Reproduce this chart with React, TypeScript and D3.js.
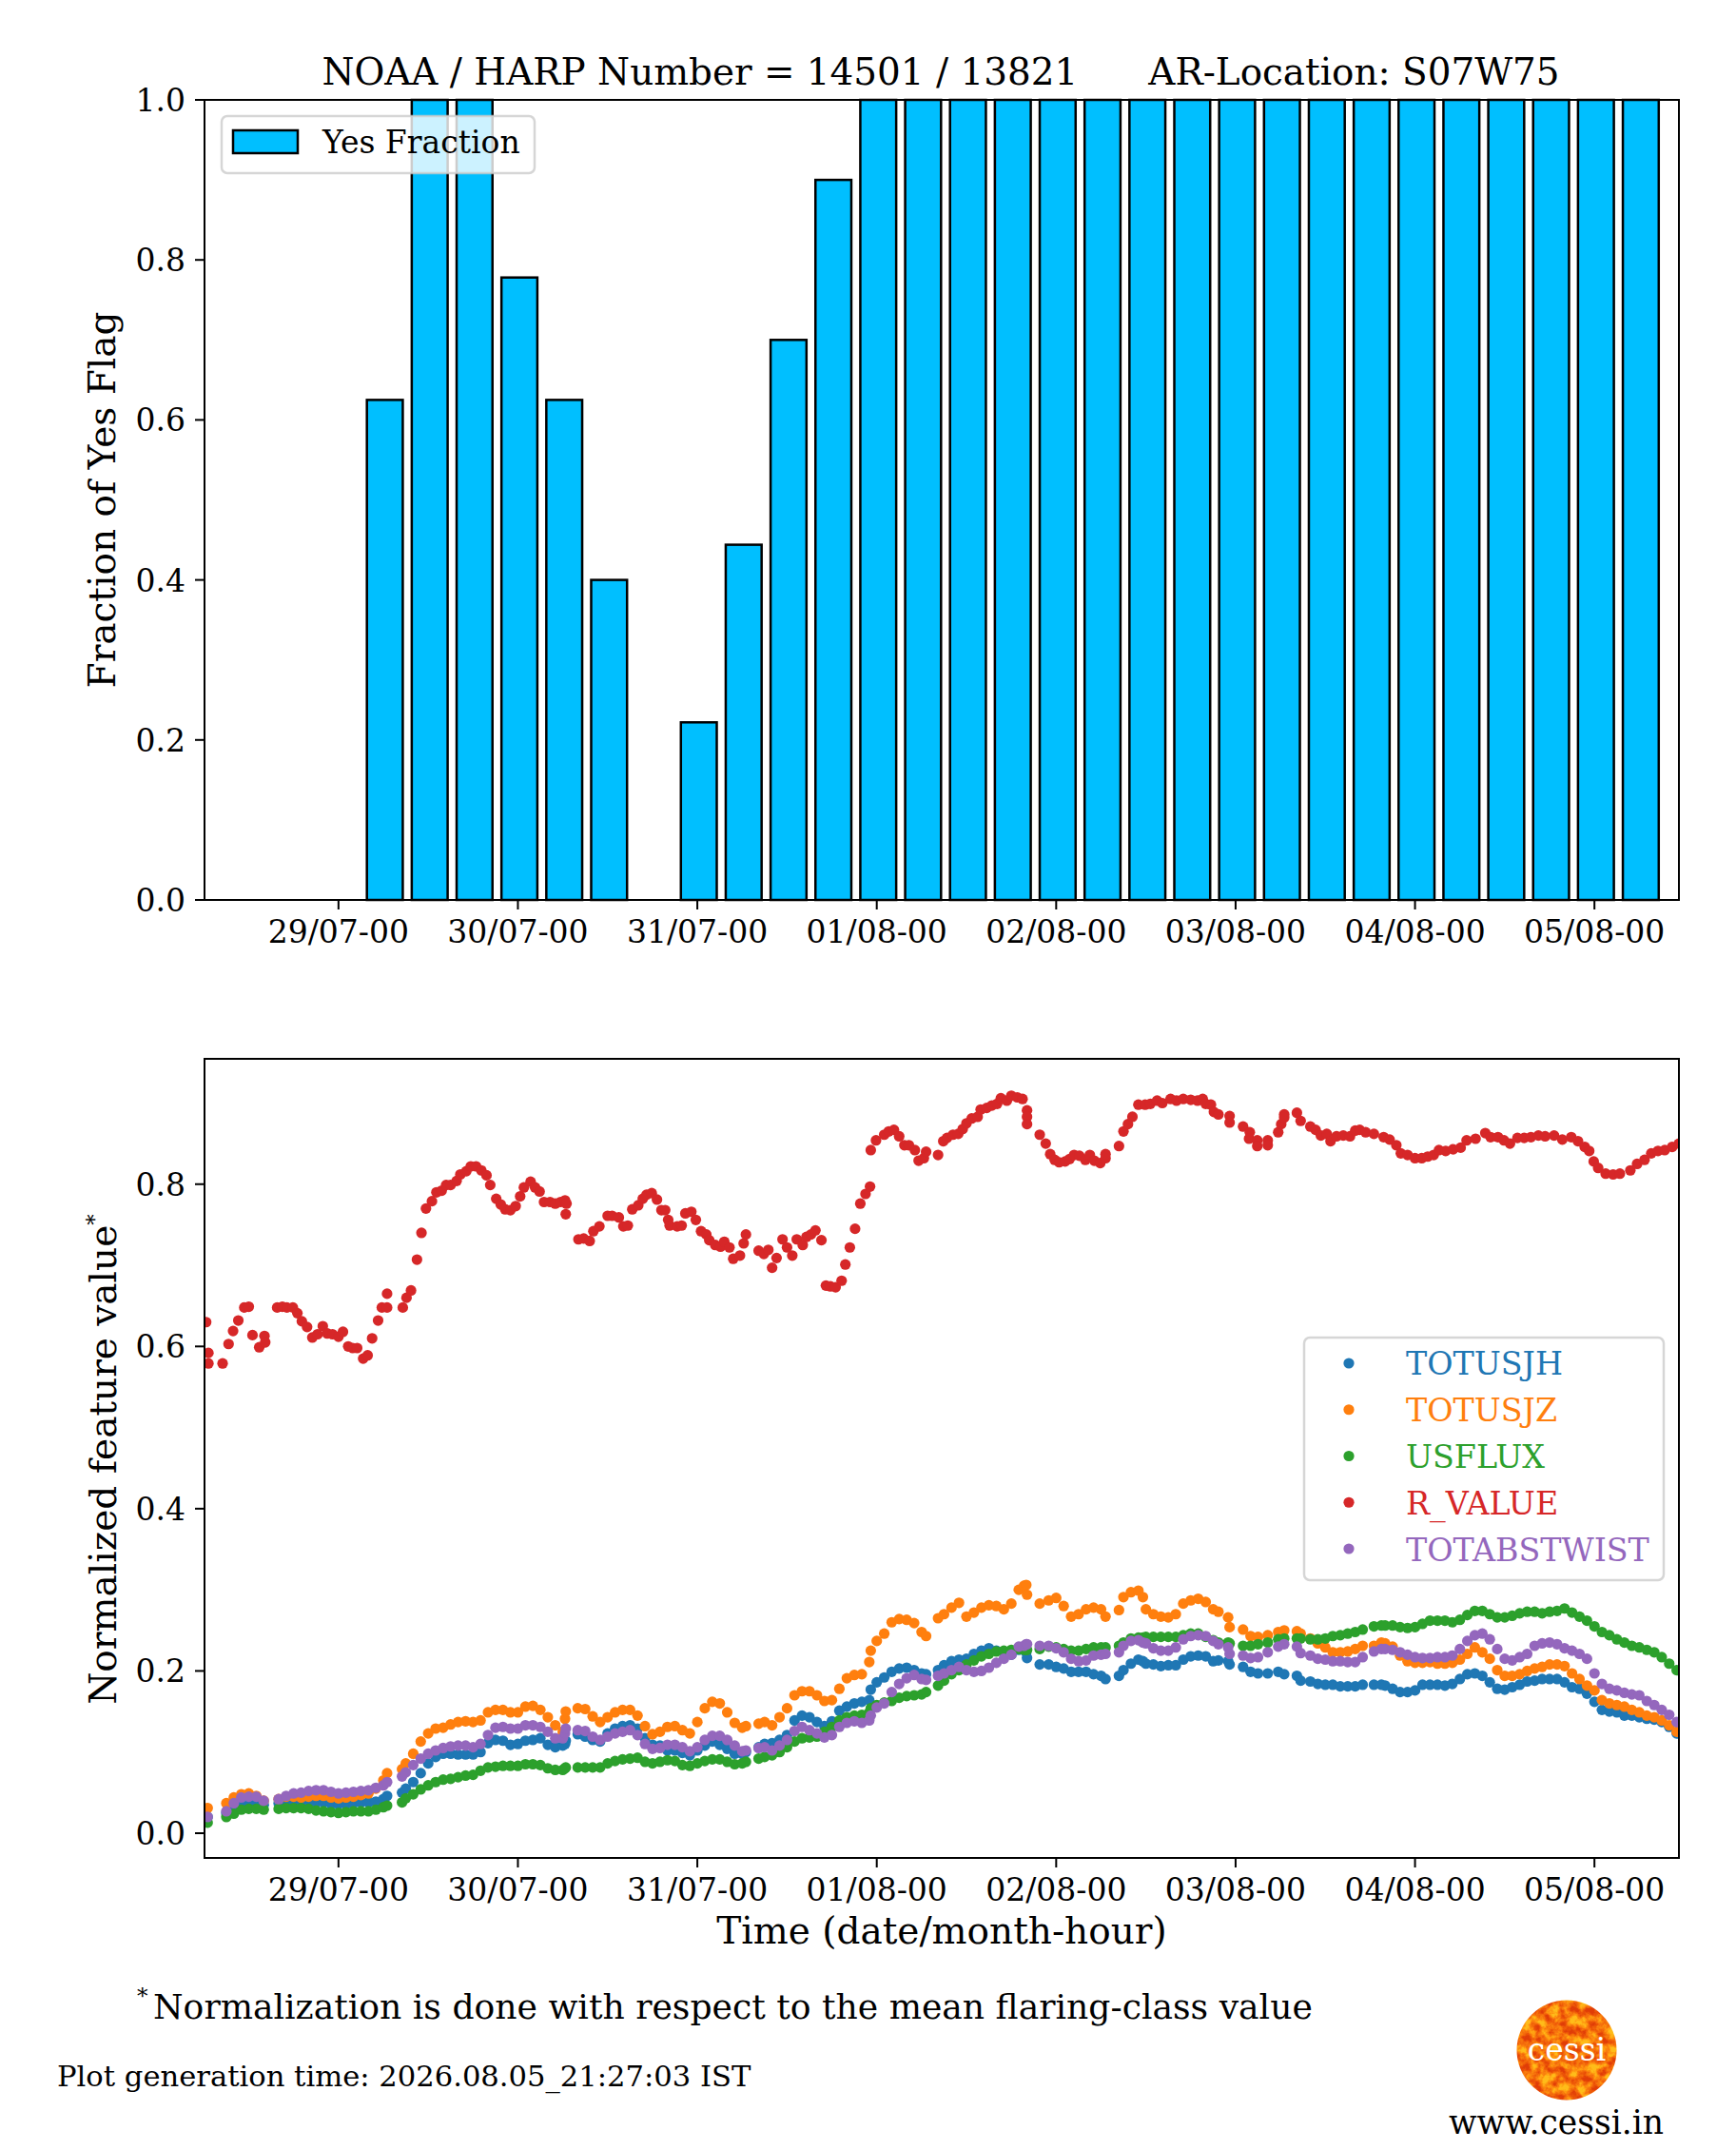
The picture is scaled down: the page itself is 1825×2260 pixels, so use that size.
import React from "react";
import * as d3 from "d3";

// hours counted from 29/07-00
const tickHours = [0, 24, 48, 72, 96, 120, 144, 168];

const barHours = [6.2, 12.2, 18.2, 24.2, 30.2, 36.2, 42.2, 48.2, 54.2, 60.2, 66.2, 72.2, 78.2, 84.2, 90.2, 96.2, 102.2, 108.2, 114.2, 120.2, 126.2, 132.2, 138.2, 144.2, 150.2, 156.2, 162.2, 168.2, 174.2];
const barFractions = [0.625, 1, 1, 0.778, 0.625, 0.4, 0, 0.222, 0.444, 0.7, 0.9, 1, 1, 1, 1, 1, 1, 1, 1, 1, 1, 1, 1, 1, 1, 1, 1, 1, 1];

// one line per unbroken run of samples
const sampleHours = [
  -17.5,
  -15, -14, -13, -12, -11, -10,
  -8, -7, -6, -5, -4, -3, -2, -1, 0, 1, 2, 3, 4, 5, 6, 6.5,
  8.5, 9, 10, 11, 12, 13, 14, 15, 16, 17, 18, 19, 20, 21, 22, 23, 24, 25, 26, 27, 28, 29, 30, 30.3, 30.4,
  32, 33, 34, 35, 36, 37, 38, 39, 40, 41, 42, 43,
  44, 45, 46, 47, 48, 49, 50, 51, 52, 53, 54, 54.5,
  56.2, 57, 58, 59, 60, 61, 62, 63, 64, 65, 66, 67, 68, 69, 70, 71, 71.2, 72, 73, 74, 75, 76, 77, 78, 78.6,
  80.2, 81, 82, 83, 84, 85, 86, 87, 88, 89, 90, 91, 91.7, 92, 92.1,
  93.8, 95, 96, 97, 98, 99, 100, 101, 102, 102.6,
  104.4, 105, 106, 107, 107.6, 108, 109, 110, 111, 112, 113, 114, 115, 116, 117, 117.7,
  119, 119.2,
  121, 122, 123, 124.3, 125.7, 126.5,
  128.2, 128.7,
  130, 131, 132, 133, 134, 135, 136, 137, 138.5,
  139.5, 140, 141, 142, 143, 144, 145, 146, 147, 148, 149, 150, 151, 152, 153, 154, 155, 156, 157, 158, 159, 160, 161, 162, 163, 164, 165, 166, 167, 168, 169, 170, 171, 172, 173, 174, 175, 176, 177, 178, 179,
];

const totusjh = [
  0.02,
  0.025, 0.033, 0.037, 0.038, 0.037, 0.035,
  0.037, 0.038, 0.038, 0.038, 0.038, 0.038, 0.038, 0.036, 0.036, 0.036, 0.037, 0.038, 0.038, 0.039, 0.042, 0.046,
  0.05, 0.055, 0.063, 0.074, 0.086, 0.094, 0.098, 0.098, 0.097, 0.097, 0.097, 0.1, 0.111, 0.115, 0.114, 0.109, 0.11, 0.114, 0.115, 0.117, 0.109, 0.106, 0.108, 0.11, 0.114,
  0.122, 0.119, 0.115, 0.113, 0.123, 0.129, 0.132, 0.133, 0.129, 0.117, 0.109, 0.108,
  0.102, 0.102, 0.099, 0.096, 0.102, 0.108, 0.113, 0.109, 0.104, 0.098, 0.098, 0.1,
  0.106, 0.11, 0.111, 0.115, 0.121, 0.139, 0.145, 0.143, 0.137, 0.132, 0.138, 0.151, 0.156, 0.16, 0.162, 0.164, 0.177, 0.186, 0.192, 0.199, 0.203, 0.204, 0.201, 0.197, 0.196,
  0.201, 0.207, 0.212, 0.214, 0.215, 0.221, 0.225, 0.228, 0.225, 0.223, 0.22, 0.226, 0.226, 0.223, 0.216,
  0.208, 0.208, 0.205, 0.203, 0.199, 0.199, 0.199, 0.196, 0.194, 0.19,
  0.194, 0.201, 0.209, 0.214, 0.212, 0.209, 0.208, 0.206, 0.207, 0.207, 0.214, 0.218, 0.219, 0.218, 0.212, 0.213,
  0.212, 0.208,
  0.205, 0.199, 0.197, 0.197, 0.199, 0.196,
  0.194, 0.188,
  0.187, 0.184, 0.183, 0.183, 0.181, 0.181, 0.181, 0.183, 0.183,
  0.183, 0.182, 0.178, 0.174, 0.174, 0.176, 0.183, 0.183, 0.183, 0.182, 0.184, 0.19, 0.196, 0.197, 0.194, 0.186, 0.178, 0.177, 0.18, 0.183, 0.187, 0.188, 0.19, 0.19, 0.19, 0.186, 0.18, 0.178, 0.172, 0.162, 0.152, 0.15, 0.149, 0.145, 0.145, 0.143, 0.141, 0.14, 0.137, 0.131, 0.123,
];

const totusjz = [
  0.031,
  0.037, 0.044, 0.048, 0.049, 0.046, 0.04,
  0.042, 0.045, 0.045, 0.044, 0.045, 0.046, 0.046, 0.044, 0.043, 0.044, 0.045, 0.047, 0.049, 0.055, 0.065, 0.074,
  0.079, 0.086, 0.098, 0.113, 0.123, 0.129, 0.13, 0.134, 0.137, 0.138, 0.137, 0.139, 0.149, 0.152, 0.152, 0.149, 0.149, 0.156, 0.157, 0.152, 0.143, 0.133, 0.125, 0.141, 0.15,
  0.154, 0.153, 0.144, 0.137, 0.143, 0.149, 0.152, 0.152, 0.145, 0.132, 0.122, 0.125,
  0.131, 0.132, 0.127, 0.123, 0.137, 0.154, 0.162, 0.16, 0.149, 0.136, 0.13, 0.132,
  0.135, 0.137, 0.133, 0.143, 0.154, 0.17, 0.175, 0.175, 0.17, 0.163, 0.164, 0.178, 0.191, 0.195, 0.196, 0.211, 0.225, 0.237, 0.246, 0.26, 0.264, 0.263, 0.259, 0.248, 0.243,
  0.265, 0.27, 0.278, 0.284, 0.267, 0.272, 0.278, 0.281, 0.28, 0.276, 0.283, 0.3, 0.305, 0.306, 0.294,
  0.283, 0.287, 0.29, 0.28, 0.267, 0.27, 0.276, 0.278, 0.276, 0.267,
  0.275, 0.291, 0.297, 0.299, 0.291, 0.276, 0.27, 0.267, 0.266, 0.27, 0.283, 0.287, 0.289, 0.285, 0.276, 0.273,
  0.266, 0.254,
  0.251, 0.243, 0.242, 0.244, 0.248, 0.25,
  0.249, 0.246,
  0.24, 0.234, 0.229, 0.223, 0.223, 0.224, 0.227, 0.231, 0.231,
  0.235, 0.234, 0.23, 0.219, 0.212, 0.21, 0.21, 0.211, 0.209, 0.209, 0.21, 0.214, 0.221, 0.229, 0.223, 0.215, 0.201, 0.194, 0.194, 0.196, 0.2, 0.203, 0.205, 0.208, 0.208, 0.206, 0.197, 0.19, 0.182, 0.176, 0.164, 0.16, 0.158, 0.156, 0.152, 0.149, 0.145, 0.143, 0.139, 0.133, 0.125,
];

const usflux = [
  0.013,
  0.02, 0.024, 0.029, 0.03, 0.03, 0.029,
  0.03, 0.031, 0.031, 0.031, 0.03, 0.028, 0.027, 0.026, 0.025, 0.026, 0.027, 0.027, 0.027, 0.029, 0.032, 0.034,
  0.038, 0.043, 0.048, 0.054, 0.059, 0.063, 0.066, 0.067, 0.069, 0.071, 0.072, 0.077, 0.081, 0.082, 0.083, 0.083, 0.083, 0.085, 0.085, 0.084, 0.08, 0.078, 0.078, 0.08, 0.081,
  0.081, 0.081, 0.081, 0.081, 0.086, 0.089, 0.091, 0.092, 0.093, 0.088, 0.086, 0.088,
  0.09, 0.089, 0.084, 0.083, 0.086, 0.089, 0.091, 0.091, 0.088, 0.085, 0.086, 0.088,
  0.092, 0.094, 0.096, 0.1, 0.106, 0.113, 0.117, 0.118, 0.119, 0.125, 0.131, 0.139, 0.143, 0.145, 0.146, 0.149, 0.154, 0.158, 0.161, 0.163, 0.167, 0.169, 0.17, 0.171, 0.174,
  0.182, 0.188, 0.196, 0.201, 0.208, 0.213, 0.218, 0.221, 0.224, 0.225, 0.226, 0.227, 0.226, 0.226, 0.226,
  0.227, 0.23, 0.229, 0.227, 0.225, 0.225, 0.227, 0.229, 0.229, 0.229,
  0.231, 0.235, 0.24, 0.241, 0.241, 0.242, 0.242, 0.242, 0.242, 0.242, 0.244, 0.246, 0.246, 0.242, 0.238, 0.235,
  0.235, 0.234,
  0.231, 0.231, 0.233, 0.235, 0.239, 0.24,
  0.24, 0.24,
  0.239, 0.239, 0.24, 0.243, 0.244, 0.246, 0.248, 0.251, 0.255,
  0.256, 0.256, 0.256, 0.254, 0.253, 0.254, 0.258, 0.262, 0.262, 0.262, 0.26, 0.263, 0.269, 0.274, 0.274, 0.27, 0.266, 0.266, 0.268, 0.271, 0.273, 0.273, 0.271, 0.273, 0.274, 0.277, 0.272, 0.267, 0.262, 0.255, 0.248, 0.244, 0.239, 0.235, 0.231, 0.229, 0.226, 0.223, 0.217, 0.209, 0.201,
];

const totabstwist = [
  0.02,
  0.027, 0.037, 0.044, 0.045, 0.045, 0.04,
  0.042, 0.046, 0.049, 0.05, 0.052, 0.053, 0.053, 0.051, 0.049, 0.05, 0.051, 0.052, 0.053, 0.056, 0.059, 0.063,
  0.07, 0.075, 0.084, 0.092, 0.098, 0.102, 0.105, 0.107, 0.108, 0.108, 0.106, 0.11, 0.121, 0.13, 0.131, 0.129, 0.129, 0.133, 0.133, 0.131, 0.125, 0.117, 0.117, 0.123, 0.129,
  0.127, 0.126, 0.119, 0.115, 0.119, 0.123, 0.125, 0.127, 0.121, 0.11, 0.104, 0.105,
  0.109, 0.109, 0.106, 0.101, 0.106, 0.115, 0.12, 0.12, 0.115, 0.108, 0.101, 0.102,
  0.105, 0.106, 0.102, 0.108, 0.115, 0.126, 0.131, 0.127, 0.123, 0.118, 0.121, 0.131, 0.136, 0.138, 0.136, 0.139, 0.145, 0.155, 0.16, 0.174, 0.184, 0.191, 0.195, 0.19, 0.189,
  0.194, 0.197, 0.201, 0.205, 0.201, 0.199, 0.2, 0.204, 0.21, 0.215, 0.22, 0.23, 0.231, 0.233, 0.233,
  0.231, 0.231, 0.228, 0.223, 0.215, 0.212, 0.213, 0.219, 0.22, 0.221,
  0.223, 0.231, 0.237, 0.238, 0.235, 0.234, 0.228, 0.225, 0.225, 0.229, 0.239, 0.243, 0.244, 0.243, 0.237, 0.233,
  0.229, 0.221,
  0.219, 0.216, 0.217, 0.223, 0.23, 0.233,
  0.23, 0.222,
  0.219, 0.215, 0.214, 0.212, 0.212, 0.211, 0.211, 0.217, 0.224,
  0.227, 0.227, 0.226, 0.223, 0.22, 0.217, 0.216, 0.216, 0.217, 0.217, 0.219, 0.227, 0.237, 0.244, 0.246, 0.239, 0.227, 0.215, 0.213, 0.217, 0.221, 0.231, 0.234, 0.235, 0.233, 0.228, 0.225, 0.221, 0.215, 0.197, 0.184, 0.178, 0.176, 0.173, 0.171, 0.17, 0.163, 0.158, 0.152, 0.146, 0.137,
];

// R_VALUE has its own sample times, the dots are easy to tell apart
const rHours = [
  -17.7, -17.4, -17.4, -15.5, -14.7, -14.1, -13.4, -12.6, -12, -11.5, -10.6, -9.9, -9.8,
  -8.2, -7.5, -6.9, -6.1, -5.5, -4.9, -4.2, -3.5, -2.8, -2.1, -1.5, -0.8, 0, 0.6, 1.3, 1.9, 2.5, 3.3, 3.9, 4.5, 5.3, 5.8, 6.5, 6.5,
  8.6, 9.1, 9.7, 10.5, 11.1, 11.7, 12.5, 13.1, 13.8, 14.4, 15, 15.8, 16.3, 17.1, 17.7, 18.4, 19.1, 19.8, 20.3, 21.1, 21.7, 22.3, 23, 23.7, 24.3, 24.8, 25.7, 26.3, 26.9, 27.5, 28.3, 29, 29.7, 30.3, 30.5, 30.4,
  32.1, 32.8, 33.6, 34.1, 34.9, 36, 36.6, 37.5, 38.1, 38.7, 39.3, 40.1, 40.7, 41.2, 41.9, 42.6, 43.2,
  43.7, 44.1, 44.3, 45.3, 45.9, 46.4, 47.2, 47.8, 48.5, 49.2, 49.6, 50.4, 51.1, 51.6, 52.3, 52.8, 53.7, 54.2, 54.5,
  56.2, 56.9, 57.5, 58, 58.6, 59.4, 60, 60.7, 61.3, 62.1, 62.6, 63.2, 63.8, 64.6, 65.2, 65.8, 66.5, 67.3, 67.8, 68.4, 69.1, 69.8, 70.5, 71.1, 71.2, 71.9, 73, 73.6, 74.3, 75, 75.7, 76.3, 77.1, 77.6, 78.3, 78.6,
  80.2, 80.9, 81.4, 82.2, 82.9, 83.5, 84, 84.7, 85.5, 85.9, 86.7, 87.4, 88.1, 88.6, 89.4, 90, 90.8, 91.5, 92.1, 92.1, 92.1,
  93.8, 94.6, 95.2, 95.8, 96.4, 97.2, 97.8, 98.4, 99.1, 99.9, 100.5, 101.1, 101.9, 102.6, 102.6,
  104.4, 105, 105.6, 106.2, 107, 107.9, 108.6, 109.5, 110.2, 111.3, 112.1, 113, 114, 114.9, 115.6, 116, 116.7, 117.1, 117.7,
  119.2, 119.2,
  121, 121.9, 121.8, 122.9, 122.9, 124.3, 124.3, 125.7, 126.1, 126.5, 126.5,
  128.2, 128.7,
  130, 130.7, 131.4, 132.2, 132.7, 133.5, 134.4, 135.3, 136, 136.6, 137.4, 138.5,
  139.8, 140.6, 141.5, 142.1, 143, 144, 144.9, 145.7, 146.5, 147.2, 148.1, 149.1, 150.1, 150.9, 152.1, 153.4, 154.1, 155.1, 155.9, 156.7, 157.7, 158.6, 159.5, 160.5, 161.4, 162.6, 163.7, 164.9, 165.8, 166.7, 167.3,
  167.9, 168.5, 169.5, 170.5, 171.4, 172.8, 173.7, 174.7, 175.6, 176.5, 177.4, 178.4, 179.3,
];

const rValue = [
  0.63, 0.592, 0.579, 0.579, 0.603, 0.619, 0.632, 0.648, 0.649, 0.614, 0.599, 0.613, 0.605,
  0.648, 0.649, 0.648, 0.648, 0.641, 0.631, 0.624, 0.611, 0.615, 0.625, 0.616, 0.615, 0.612, 0.618, 0.6, 0.598, 0.598, 0.585, 0.589, 0.61, 0.632, 0.648, 0.648, 0.665,
  0.648, 0.66, 0.669, 0.707, 0.74, 0.77, 0.779, 0.79, 0.792, 0.799, 0.799, 0.804, 0.812, 0.816, 0.822, 0.822, 0.817, 0.811, 0.799, 0.782, 0.775, 0.769, 0.768, 0.773, 0.785, 0.796, 0.803, 0.796, 0.791, 0.778, 0.778, 0.776, 0.778, 0.78, 0.776, 0.763,
  0.732, 0.733, 0.73, 0.742, 0.748, 0.761, 0.761, 0.759, 0.748, 0.749, 0.769, 0.774, 0.782, 0.787, 0.789, 0.781, 0.768,
  0.768, 0.756, 0.749, 0.748, 0.749, 0.764, 0.766, 0.756, 0.742, 0.738, 0.731, 0.725, 0.723, 0.729, 0.722, 0.708, 0.712, 0.727, 0.738,
  0.718, 0.714, 0.719, 0.697, 0.709, 0.732, 0.722, 0.712, 0.732, 0.725, 0.735, 0.738, 0.743, 0.731, 0.675, 0.674, 0.673, 0.681, 0.701, 0.722, 0.745, 0.776, 0.788, 0.797, 0.842, 0.854, 0.861, 0.865, 0.867, 0.859, 0.848, 0.848, 0.842, 0.829, 0.832, 0.84,
  0.836, 0.853, 0.857, 0.861, 0.862, 0.868, 0.875, 0.881, 0.883, 0.892, 0.894, 0.897, 0.899, 0.906, 0.903, 0.909, 0.907, 0.905, 0.891, 0.883, 0.874,
  0.861, 0.85, 0.837, 0.83, 0.827, 0.828, 0.831, 0.836, 0.835, 0.83, 0.836, 0.829, 0.826, 0.832, 0.837,
  0.847, 0.865, 0.874, 0.883, 0.898, 0.898, 0.899, 0.903, 0.9, 0.905, 0.903, 0.905, 0.904, 0.903, 0.905, 0.899, 0.898, 0.889, 0.886,
  0.884, 0.876,
  0.871, 0.864, 0.856, 0.854, 0.847, 0.854, 0.848, 0.864, 0.874, 0.886, 0.882,
  0.888, 0.878,
  0.871, 0.867, 0.86, 0.862, 0.853, 0.859, 0.86, 0.859, 0.866, 0.867, 0.864, 0.862,
  0.858, 0.855, 0.848, 0.838, 0.836, 0.832, 0.832, 0.834, 0.836, 0.842, 0.841, 0.843, 0.845, 0.854, 0.856, 0.863, 0.858, 0.858, 0.854, 0.85, 0.857, 0.857, 0.858, 0.86, 0.859, 0.86, 0.855, 0.858, 0.853, 0.846, 0.841,
  0.828, 0.82, 0.813, 0.812, 0.813, 0.817, 0.825, 0.83, 0.838, 0.841, 0.842, 0.846, 0.85,
];

const featureSeries = [
  { name: "TOTUSJH", color: "#1f77b4", hours: sampleHours, values: totusjh },
  { name: "TOTUSJZ", color: "#ff7f0e", hours: sampleHours, values: totusjz },
  { name: "USFLUX", color: "#2ca02c", hours: sampleHours, values: usflux },
  { name: "R_VALUE", color: "#d62728", hours: rHours, values: rValue },
  { name: "TOTABSTWIST", color: "#9467bd", hours: sampleHours, values: totabstwist },
];

const W = 1825;
const H = 2260;
const LEFT = 215;
const RIGHT = 1765;
const TOP1 = 105;
const BOT1 = 946;
const TOP2 = 1113;
const BOT2 = 1953;
const SERIF = "'DejaVu Serif'";
const TICK_FONT = 33;

const t0 = Date.UTC(2026, 6, 29);
const toDate = (h: number) => new Date(t0 + h * 3600e3);
const fmt = d3.utcFormat("%d/%m-%H");

const x = d3.scaleUtc().domain([toDate(-17.92), toDate(179.3)]).range([LEFT, RIGHT]);
const yBar = d3.scaleLinear().domain([0, 1]).range([BOT1, TOP1]);
const yFeat = d3.scaleLinear().domain([-0.0305, 0.9545]).range([BOT2, TOP2]);
const barWidth = (x(toDate(6)) - x(toDate(0))) * 0.8;

const XTicks = ({ bottom, labelY }: { bottom: number; labelY: number }) => (
  <g>
    {tickHours.map((h) => (
      <g key={h} transform={`translate(${x(toDate(h))},${bottom})`}>
        <line y2={10} stroke="black" strokeWidth={2} />
        <text y={labelY} textAnchor="middle" fontSize={TICK_FONT}>{fmt(toDate(h))}</text>
      </g>
    ))}
  </g>
);

const YTicks = ({ scale, ticks }: { scale: d3.ScaleLinear<number, number>; ticks: number[] }) => (
  <g>
    {ticks.map((t) => (
      <g key={t} transform={`translate(${LEFT},${scale(t)})`}>
        <line x2={-10} stroke="black" strokeWidth={2} />
        <text x={-20} y={12} textAnchor="end" fontSize={TICK_FONT}>{t.toFixed(1)}</text>
      </g>
    ))}
  </g>
);

export default function App() {
  return (
    <svg
      width={W}
      height={H}
      fontFamily={SERIF}
      style={{ position: "absolute", left: 0, top: 0, background: "white" }}
    >
      <defs>
        <clipPath id="panel2">
          <rect x={LEFT} y={TOP2} width={RIGHT - LEFT} height={BOT2 - TOP2} />
        </clipPath>
        <clipPath id="sunClip">
          <circle cx={1647} cy={2155} r={52.5} />
        </clipPath>
        <filter id="sunTexture" x="0" y="0" width="100%" height="100%" colorInterpolationFilters="sRGB">
          <feTurbulence type="fractalNoise" baseFrequency="0.1" numOctaves={4} seed={7} />
          <feColorMatrix type="matrix" values="2.2 0 0 0 -0.6  2.2 0 0 0 -0.6  2.2 0 0 0 -0.6  0 0 0 0 1" />
          <feComponentTransfer>
            <feFuncR type="table" tableValues="0.88 0.93 0.97 1 1" />
            <feFuncG type="table" tableValues="0.24 0.34 0.46 0.6 0.74" />
            <feFuncB type="table" tableValues="0.03 0.03 0.05 0.06 0.1" />
          </feComponentTransfer>
        </filter>
      </defs>

      <text x={989} y={89} textAnchor="middle" fontSize={38.9} xmlSpace="preserve">
        {"NOAA / HARP Number = 14501 / 13821      AR-Location: S07W75"}
      </text>

      {/* top panel: yes fraction bars */}
      {barHours.map((h, i) => (
        <rect
          key={h}
          x={x(toDate(h)) - barWidth / 2}
          y={yBar(barFractions[i])}
          width={barWidth}
          height={BOT1 - yBar(barFractions[i])}
          fill="#00bfff"
          stroke="black"
          strokeWidth={2.5}
        />
      ))}
      <rect x={LEFT} y={TOP1} width={RIGHT - LEFT} height={BOT1 - TOP1} fill="none" stroke="black" strokeWidth={2} />
      <XTicks bottom={BOT1} labelY={45} />
      <YTicks scale={yBar} ticks={[0, 0.2, 0.4, 0.6, 0.8, 1]} />
      <text transform={`translate(121,${(TOP1 + BOT1) / 2}) rotate(-90)`} textAnchor="middle" fontSize={39}>
        Fraction of Yes Flag
      </text>

      <rect x={233} y={122} width={329} height={60} rx={6} fill="white" fillOpacity={0.8} stroke="#cccccc" strokeOpacity={0.8} strokeWidth={2.5} />
      <rect x={245} y={137} width={68} height={24} fill="#00bfff" stroke="black" strokeWidth={2.5} />
      <text x={339} y={161} fontSize={33}>Yes Fraction</text>

      {/* bottom panel: normalized features */}
      <g clipPath="url(#panel2)">
        {featureSeries.map((s) => (
          <g key={s.name} fill={s.color}>
            {s.values.map((v, i) => (
              <circle key={i} cx={x(toDate(s.hours[i]))} cy={yFeat(v)} r={5.6} />
            ))}
          </g>
        ))}
      </g>
      <rect x={LEFT} y={TOP2} width={RIGHT - LEFT} height={BOT2 - TOP2} fill="none" stroke="black" strokeWidth={2} />
      <XTicks bottom={BOT2} labelY={45} />
      <YTicks scale={yFeat} ticks={[0, 0.2, 0.4, 0.6, 0.8]} />
      <text transform={`translate(122,1534) rotate(-90)`} textAnchor="middle" fontSize={39}>
        Normalized feature value<tspan fontSize={23} dy={-15}>*</tspan>
      </text>
      <text x={990} y={2043} textAnchor="middle" fontSize={39}>
        Time (date/month-hour)
      </text>

      <rect x={1371} y={1406} width={378} height={255} rx={6} fill="white" fillOpacity={0.8} stroke="#cccccc" strokeOpacity={0.8} strokeWidth={2.5} />
      {featureSeries.map((s, i) => (
        <g key={s.name}>
          <circle cx={1418} cy={1433 + i * 48.75} r={5.6} fill={s.color} />
          <text x={1478} y={1445 + i * 48.9} fontSize={33.3} fill={s.color}>{s.name}</text>
        </g>
      ))}

      {/* footer */}
      <text x={144} y={2106} fontSize={23}>*</text>
      <text x={161} y={2122} fontSize={36.15}>Normalization is done with respect to the mean flaring-class value</text>
      <text x={60} y={2193} fontSize={30.6}>Plot generation time: 2026.08.05_21:27:03 IST</text>

      <g clipPath="url(#sunClip)">
        <rect x={1594} y={2102} width={106} height={106} filter="url(#sunTexture)" />
      </g>
      <text x={1647} y={2166} textAnchor="middle" fontSize={33} fill="white">cessi</text>
      <text x={1636} y={2243} textAnchor="middle" fontSize={34.5}>www.cessi.in</text>
    </svg>
  );
}
